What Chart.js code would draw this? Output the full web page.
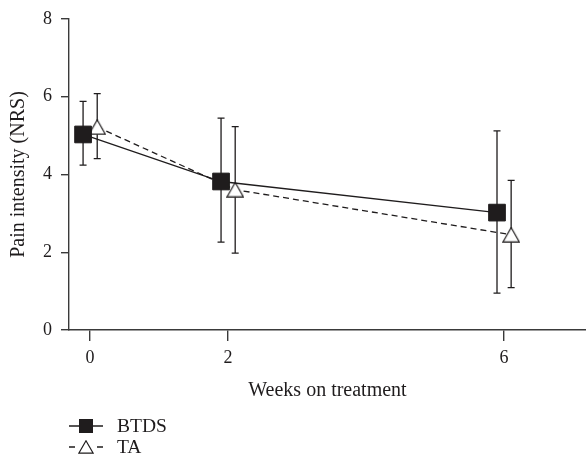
<!DOCTYPE html>
<html>
<head>
<meta charset="utf-8">
<script src="https://cdn.jsdelivr.net/npm/chart.js@4.4.1/dist/chart.umd.min.js"></script>
<style>
  html, body { margin: 0; padding: 0; background: #fff; }
  #wrap { width: 586px; height: 462px; }
</style>
</head>
<body>
<div id="wrap"><canvas id="c" width="586" height="462"></canvas></div>
<script>
// ---- data ----
const weeks = [0, 2, 6];
const xTicks = [0, 2, 6];
const yTicks = [0, 2, 4, 6, 8];
const seriesNames = ['BTDS', 'TA'];
const btdsMean = [5.03, 3.82, 3.02];
const btdsLow  = [4.24, 2.26, 0.95];
const btdsHigh = [5.88, 5.45, 5.12];
const taMean = [5.22, 3.61, 2.45];
const taLow  = [4.41, 1.98, 1.09];
const taHigh = [6.08, 5.23, 3.85];
const xTitle = 'Weeks on treatment';
const yTitle = 'Pain intensity (NRS)';

// small horizontal offsets so the two groups do not overlap
const offsets = [-0.1, 0.105];

const INK = '#1f1c1d';
const AXIS = '#3a3a3a';
const FONT = "'Liberation Serif', 'Times New Roman', serif";

function pts(mean, off) {
  return weeks.map((w, i) => ({ x: w + off, y: mean[i] }));
}

// open triangle marker, centred on its bounding box
function makeTriangle(w, h) {
  const cv = document.createElement('canvas');
  cv.width = w; cv.height = h;
  const c = cv.getContext('2d');
  c.beginPath();
  c.moveTo(w / 2, 0.8);
  c.lineTo(w - 0.8, h - 0.8);
  c.lineTo(0.8, h - 0.8);
  c.closePath();
  c.fillStyle = '#fff';
  c.fill();
  c.strokeStyle = INK;
  c.lineWidth = 1.2;
  c.stroke();
  return cv;
}
const triMarker = makeTriangle(18, 16);
const triLegend = makeTriangle(16, 14);

const errData = [
  { low: btdsLow, high: btdsHigh },
  { low: taLow, high: taHigh }
];

const errorBars = {
  id: 'errorBars',
  beforeDatasetsDraw(chart) {
    const { ctx, scales: { x, y } } = chart;
    ctx.save();
    ctx.strokeStyle = INK;
    ctx.lineWidth = 1.3;
    chart.data.datasets.forEach((ds, di) => {
      const e = errData[di];
      ds.data.forEach((p, i) => {
        const px = x.getPixelForValue(p.x);
        const yl = y.getPixelForValue(e.low[i]);
        const yh = y.getPixelForValue(e.high[i]);
        ctx.beginPath();
        ctx.moveTo(px, yl); ctx.lineTo(px, yh);
        ctx.moveTo(px - 3.5, yl); ctx.lineTo(px + 3.5, yl);
        ctx.moveTo(px - 3.5, yh); ctx.lineTo(px + 3.5, yh);
        ctx.stroke();
      });
    });
    ctx.restore();
  }
};

const customLegend = {
  id: 'customLegend',
  afterDraw(chart) {
    const ctx = chart.ctx;
    const left = chart.chartArea.left;
    const rows = [426, 447];
    ctx.save();
    ctx.font = '19.5px ' + FONT;
    ctx.fillStyle = INK;
    ctx.textBaseline = 'middle';
    ctx.textAlign = 'left';
    chart.data.datasets.forEach((ds, di) => {
      const cy = rows[di];
      const x0 = left, x1 = left + 34, cx = left + 17;
      ctx.strokeStyle = INK;
      ctx.lineWidth = 1.3;
      if (di === 0) {
        ctx.beginPath(); ctx.moveTo(x0, cy); ctx.lineTo(x1, cy); ctx.stroke();
        ctx.fillStyle = INK;
        ctx.fillRect(cx - 7, cy - 7, 14, 14);
      } else {
        ctx.beginPath();
        ctx.moveTo(x0, cy); ctx.lineTo(x0 + 6, cy);
        ctx.moveTo(x1 - 6, cy); ctx.lineTo(x1, cy);
        ctx.stroke();
        ctx.drawImage(triLegend, cx - triLegend.width / 2, cy - triLegend.height / 2);
      }
      ctx.fillStyle = INK;
      ctx.fillText(ds.label, left + 48, cy + 1);
    });
    ctx.restore();
  }
};

new Chart(document.getElementById('c'), {
  type: 'line',
  data: {
    datasets: [
      {
        label: seriesNames[0],
        data: pts(btdsMean, offsets[0]),
        borderColor: INK,
        borderWidth: 1.3,
        pointStyle: 'rect',
        pointRadius: 11.8,
        pointHoverRadius: 11.8,
        pointBackgroundColor: INK,
        pointBorderColor: INK,
        pointBorderWidth: 1,
        tension: 0
      },
      {
        label: seriesNames[1],
        data: pts(taMean, offsets[1]),
        borderColor: INK,
        borderWidth: 1.3,
        borderDash: [6, 4],
        pointStyle: triMarker,
        pointRadius: 9,
        pointHoverRadius: 9,
        tension: 0
      }
    ]
  },
  options: {
    responsive: false,
    animation: false,
    events: [],
    layout: { autoPadding: false, padding: { top: 19, right: 0, bottom: 0, left: 0 } },
    plugins: {
      legend: { display: false },
      tooltip: { enabled: false }
    },
    scales: {
      x: {
        type: 'linear',
        min: -0.304,
        max: 7.19,
        afterBuildTicks(scale) { scale.ticks = xTicks.map(v => ({ value: v })); },
        afterFit(scale) { scale.height = 132; scale.paddingLeft = 0; scale.paddingRight = 0; },
        grid: { drawOnChartArea: false, drawTicks: true, tickLength: 11, color: AXIS, lineWidth: 1.4 },
        border: { display: true, color: AXIS, width: 1.4 },
        ticks: { color: INK, font: { family: FONT, size: 18 }, padding: 6, maxRotation: 0, autoSkip: false },
        title: { display: true, text: xTitle, color: INK, font: { family: FONT, size: 20 }, padding: { top: 0, bottom: 59 } }
      },
      y: {
        min: 0,
        max: 8,
        afterBuildTicks(scale) { scale.ticks = yTicks.map(v => ({ value: v })); },
        afterFit(scale) { scale.width = 69; scale.paddingTop = 0; scale.paddingBottom = 0; },
        grid: { drawOnChartArea: false, drawTicks: true, tickLength: 8, color: AXIS, lineWidth: 1.4 },
        border: { display: true, color: AXIS, width: 1.4 },
        ticks: { color: INK, font: { family: FONT, size: 18 }, padding: 9 },
        title: { display: true, text: yTitle, color: INK, font: { family: FONT, size: 20 }, padding: { top: 7, bottom: 0 } }
      }
    }
  },
  plugins: [errorBars, customLegend]
});
</script>
</body>
</html>
